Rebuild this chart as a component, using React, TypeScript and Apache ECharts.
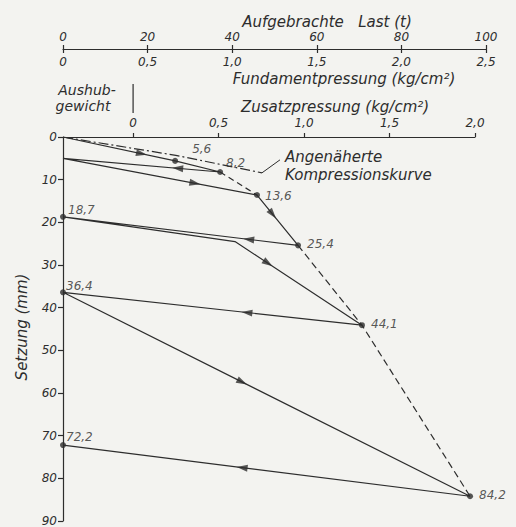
import React, { useEffect, useRef } from "react";
import * as echarts from "echarts";

// ---------- data ----------
// Zusatzpressung (kg/cm²) at which the Fundamentpressung is zero (Aushubgewicht)
const AUSHUB = -0.41;

// tick labels of the three pressure / load scales and of the settlement axis
const lastTickValues = [0, 20, 40, 60, 80, 100];
const fundTickValues = [0, 0.5, 1.0, 1.5, 2.0, 2.5];
const fundTickLabels = ["0", "0,5", "1,0", "1,5", "2,0", "2,5"];
const zusatzTickValues = [0, 0.5, 1.0, 1.5, 2.0];
const zusatzTickLabels = ["0", "0,5", "1,0", "1,5", "2,0"];
const setzungTicks = [0, 10, 20, 30, 40, 50, 60, 70, 80, 90];

// load / unload path: Zusatzpressung (kg/cm²) and Setzung (mm)
const pathZ = [AUSHUB, 0.246, 0.509, AUSHUB, 0.725, 0.965, AUSHUB, 0.596, 1.339, AUSHUB, 1.971, AUSHUB];
const pathS = [0, 5.6, 8.2, 5.0, 13.6, 25.4, 18.7, 24.5, 44.1, 36.4, 84.2, 72.2];

// measured points with their labels
const dotZ = [0.246, 0.509, 0.725, 0.965, 1.339, 1.971, AUSHUB, AUSHUB, AUSHUB];
const dotS = [5.6, 8.2, 13.6, 25.4, 44.1, 84.2, 18.7, 36.4, 72.2];

// approximated compression curve (dashed parts)
const curveAZ = [0.509, 0.725];
const curveAS = [8.2, 13.6];
const curveBZ = [0.965, 1.339, 1.971];
const curveBS = [25.4, 44.1, 84.2];

// approximated compression curve (dash-dot initial part)
const approxZ = [AUSHUB, 0.25, 0.754];
const approxS = [0, 4.3, 8.4];

// arrows: segment index of the path and fraction along it
const arrowSeg = [0, 2, 3, 4, 5, 7, 8, 9, 10];
const arrowAt = [0.7, 0.27, 0.68, 0.38, 0.21, 0.26, 0.385, 0.44, 0.56];

// ---------- styles ----------
const FONT = '"DejaVu Sans", "Liberation Sans", sans-serif';
const INK = "#2d2d2d";
const BG = "#f3f3f0";
const labelOffsets: number[][] = [
  [9, -12],
  [-2, -9],
  [0, 1],
  [1, -1],
  [1, -1],
  [1, -1],
  [-3, -7],
  [-5, -6],
  [-5, -8],
];

const fmtDec = (v: number) => v.toFixed(1).replace(".", ",");
const byTicks = (values: number[], labels: string[]) => (v: number) => {
  const i = values.findIndex((t) => Math.abs(t - v) < 1e-6);
  return i >= 0 ? labels[i] : "";
};

const tickText = { fontFamily: FONT, fontStyle: "italic", fontSize: 12, color: INK };
const lineSt = { color: INK, width: 1.2 };

export default function App() {
  const ref = useRef<HTMLDivElement>(null);

  useEffect(() => {
    if (!ref.current) return;
    const chart = echarts.init(ref.current, null, { renderer: "svg" });

    const pathData = pathZ.map((z, i) => [z, pathS[i]]);

    const option: any = {
      animation: false,
      backgroundColor: BG,
      textStyle: { fontFamily: FONT, fontStyle: "italic", color: INK },
      grid: [
        { left: 63, top: 137, width: 412, height: 386 },
        { left: 133, top: 137, width: 342, height: 386 },
        { left: 63, top: 49, width: 423, height: 10 },
      ],
      xAxis: [
        {
          gridIndex: 0,
          type: "value",
          position: "top",
          min: AUSHUB,
          max: zusatzTickValues[zusatzTickValues.length - 1],
          axisLine: { show: true, onZero: false, lineStyle: lineSt },
          axisTick: { show: false },
          axisLabel: { show: false },
          splitLine: { show: false },
        },
        {
          gridIndex: 1,
          type: "value",
          position: "top",
          min: zusatzTickValues[0],
          max: zusatzTickValues[zusatzTickValues.length - 1],
          interval: zusatzTickValues[1] - zusatzTickValues[0],
          axisLine: { show: false, onZero: false },
          axisTick: { show: true, length: 4, lineStyle: lineSt },
          axisLabel: { ...tickText, margin: 8, formatter: byTicks(zusatzTickValues, zusatzTickLabels) },
          splitLine: { show: false },
        },
        {
          gridIndex: 2,
          type: "value",
          position: "top",
          min: lastTickValues[0],
          max: lastTickValues[lastTickValues.length - 1],
          interval: lastTickValues[1] - lastTickValues[0],
          axisLine: { show: true, onZero: false, lineStyle: lineSt },
          axisTick: { show: true, length: 4, lineStyle: lineSt },
          axisLabel: { ...tickText, margin: 6 },
          splitLine: { show: false },
        },
        {
          gridIndex: 2,
          type: "value",
          position: "top",
          min: fundTickValues[0],
          max: fundTickValues[fundTickValues.length - 1],
          interval: fundTickValues[1] - fundTickValues[0],
          axisLine: { show: false, onZero: false },
          axisTick: { show: true, inside: true, length: 4, lineStyle: lineSt },
          axisLabel: { ...tickText, inside: true, margin: 7, formatter: byTicks(fundTickValues, fundTickLabels) },
          splitLine: { show: false },
        },
      ],
      yAxis: [
        {
          gridIndex: 0,
          type: "value",
          inverse: true,
          min: setzungTicks[0],
          max: setzungTicks[setzungTicks.length - 1],
          interval: setzungTicks[1] - setzungTicks[0],
          axisLine: { show: true, onZero: false, lineStyle: lineSt },
          axisTick: { show: true, length: 5, lineStyle: lineSt },
          axisLabel: { ...tickText, margin: 6 },
          splitLine: { show: false },
        },
        { gridIndex: 1, type: "value", show: false, min: 0, max: 90 },
        { gridIndex: 2, type: "value", show: false, min: 0, max: 1 },
      ],
      series: [
        {
          type: "line",
          data: pathData,
          symbol: "none",
          silent: true,
          lineStyle: lineSt,
        },
        {
          type: "line",
          data: curveAZ.map((z, i) => [z, curveAS[i]]),
          symbol: "none",
          silent: true,
          lineStyle: { ...lineSt, type: [6, 4] },
        },
        {
          type: "line",
          data: curveBZ.map((z, i) => [z, curveBS[i]]),
          symbol: "none",
          silent: true,
          lineStyle: { ...lineSt, type: [7, 4] },
        },
        {
          type: "line",
          data: approxZ.map((z, i) => [z, approxS[i]]),
          symbol: "none",
          silent: true,
          lineStyle: { ...lineSt, type: [10, 3, 2, 3] },
        },
        {
          type: "scatter",
          symbol: "circle",
          symbolSize: 6,
          silent: true,
          itemStyle: { color: INK },
          data: dotZ.map((z, i) => ({
            value: [z, dotS[i]],
            label: {
              show: true,
              position: "right",
              offset: labelOffsets[i],
              formatter: fmtDec(dotS[i]),
              fontFamily: FONT,
              fontStyle: "italic",
              fontSize: 12,
              color: INK,
            },
          })),
        },
        {
          id: "arrows",
          type: "scatter",
          symbol: "triangle",
          symbolSize: [7, 11],
          silent: true,
          itemStyle: { color: INK },
          data: [],
        },
      ],
    };
    chart.setOption(option);

    const px = (z: number, s: number) =>
      chart.convertToPixel({ xAxisIndex: 0, yAxisIndex: 0 } as any, [z, s]) as number[];

    const arrowData = arrowSeg.map((seg, i) => {
      const t = arrowAt[i];
      const z = pathZ[seg] + (pathZ[seg + 1] - pathZ[seg]) * t;
      const s = pathS[seg] + (pathS[seg + 1] - pathS[seg]) * t;
      const a = px(pathZ[seg], pathS[seg]);
      const b = px(pathZ[seg + 1], pathS[seg + 1]);
      const ang = (Math.atan2(-(b[1] - a[1]), b[0] - a[0]) * 180) / Math.PI;
      return { value: [z, s], symbolRotate: ang - 90 };
    });

    const zeroX = px(0, 0)[0];
    const pEnd = px(approxZ[approxZ.length - 1], approxS[approxS.length - 1]);

    const txt = (text: string, x: number, y: number, align: string, size = 15, rotation = 0) => ({
      type: "text",
      x,
      y,
      rotation,
      silent: true,
      style: {
        text,
        fill: INK,
        fontFamily: FONT,
        fontStyle: "italic",
        fontSize: size,
        textAlign: align,
        textVerticalAlign: "middle",
      },
    });

    chart.setOption({
      series: [{ id: "arrows", data: arrowData }],
      graphic: [
        txt("Aufgebrachte   Last (t)", 327, 22, "center"),
        txt("Fundamentpressung (kg/cm²)", 344, 79, "center"),
        txt("Zusatzpressung (kg/cm²)", 335, 107, "center"),
        txt("Aushub-", 87, 90, "center", 14),
        txt("gewicht", 83, 106, "center", 14),
        txt("Setzung (mm)", 22, 327, "center", 15, Math.PI / 2),
        txt("Angenäherte", 285, 157, "left"),
        txt("Kompressionskurve", 285, 175, "left"),
        {
          type: "line",
          silent: true,
          shape: { x1: zeroX, y1: 84, x2: zeroX, y2: 113 },
          style: { stroke: INK, lineWidth: 1.2 },
        },
        {
          type: "line",
          silent: true,
          shape: { x1: pEnd[0] + 18, y1: pEnd[1] - 13, x2: pEnd[0], y2: pEnd[1] },
          style: { stroke: INK, lineWidth: 1 },
        },
      ],
    });

    return () => chart.dispose();
  }, []);

  return (
    <div
      ref={ref}
      style={{ position: "fixed", left: 0, top: 0, width: 516, height: 527 }}
    />
  );
}
